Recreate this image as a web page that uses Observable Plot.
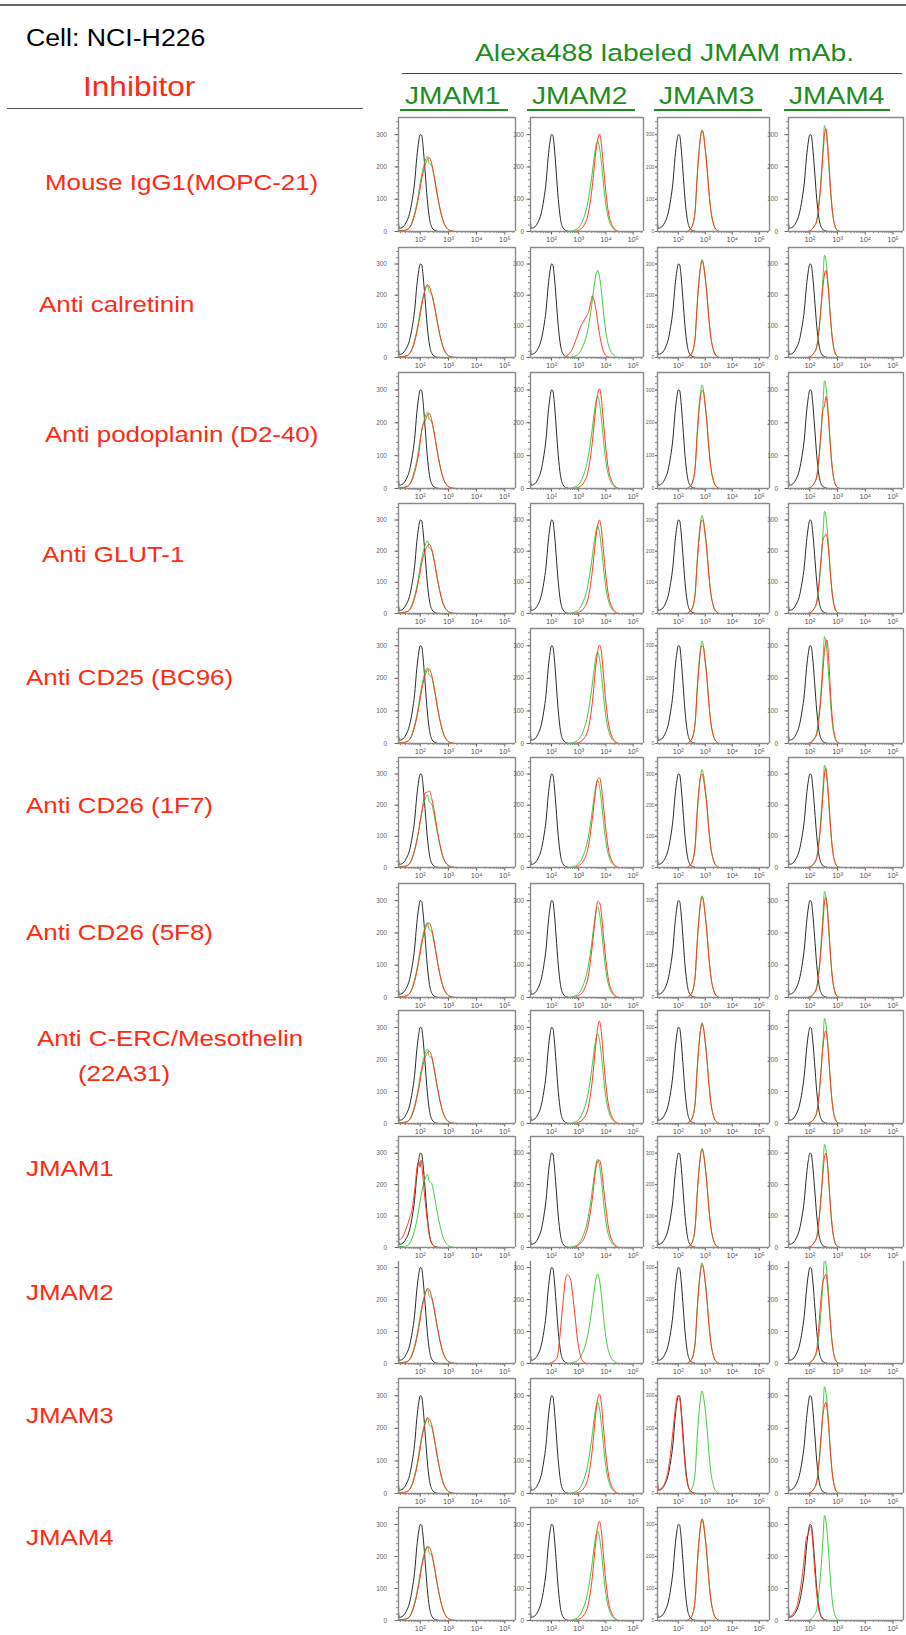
<!DOCTYPE html>
<html><head><meta charset="utf-8">
<script src="https://cdn.jsdelivr.net/npm/d3@7"></script>
<script src="https://cdn.jsdelivr.net/npm/@observablehq/plot@0.6"></script>
<style>
body{margin:0;background:#fff;}
#page{position:relative;width:906px;height:1635px;overflow:hidden;background:#fff;font-family:"Liberation Sans",Arial,sans-serif;}
.t{position:absolute;white-space:nowrap;line-height:1;transform-origin:0 0;}
.ln{position:absolute;}
.panel{position:absolute;}
</style></head><body><div id="page"></div>
<script>
// ---------- categories / labels ----------
const cellLine = "Cell: NCI-H226";
const reagentTitle = "Alexa488 labeled JMAM mAb.";
const inhibitorTitle = "Inhibitor";
const antibodies = ["JMAM1", "JMAM2", "JMAM3", "JMAM4"];
const inhibitors = [
  ["Mouse IgG1(MOPC-21)"], ["Anti calretinin"], ["Anti podoplanin (D2-40)"], ["Anti GLUT-1"],
  ["Anti CD25 (BC96)"], ["Anti CD26 (1F7)"], ["Anti CD26 (5F8)"], ["Anti C-ERC/Mesothelin", "(22A31)"],
  ["JMAM1"], ["JMAM2"], ["JMAM3"], ["JMAM4"]
];
const xTicks = [2, 3, 4, 5];
const xTickLabels = ["10²", "10³", "10⁴", "10⁵"];
const yTicks = [0, 100, 200, 300];

// ---------- series: [log10 fluorescence, count] ----------
const control = [[1.23,28],[1.26,10],[1.35,12],[1.5,28],[1.62,55],[1.72,100],[1.8,150],[1.88,230],[1.95,280],[2.0,300],[2.05,298],[2.1,265],[2.17,190],[2.25,100],[2.33,40],[2.42,12],[2.55,2],[2.7,0],[5.38,0]];
const greenJ1 = [[1.23,8],[1.27,3],[1.45,4],[1.6,10],[1.75,40],[1.9,95],[2.0,150],[2.1,195],[2.2,225],[2.26,233],[2.32,210],[2.4,205],[2.5,165],[2.6,115],[2.7,70],[2.8,35],[2.95,10],[3.1,2],[3.3,0],[5.38,0]];
const greenJ2 = [[1.23,0],[2.6,0],[2.8,3],[3.0,12],[3.15,35],[3.3,75],[3.45,150],[3.57,230],[3.65,272],[3.7,280],[3.76,262],[3.85,200],[3.93,130],[4.03,65],[4.13,30],[4.28,8],[4.45,0],[5.38,0]];
const greenJ3 = [[1.23,0],[2.3,0],[2.45,8],[2.55,25],[2.63,70],[2.7,170],[2.76,240],[2.82,290],[2.88,315],[2.93,300],[2.98,270],[3.05,215],[3.12,140],[3.2,70],[3.3,25],[3.42,5],[3.55,0],[5.38,0]];
const greenJ4 = [[1.23,0],[1.9,0],[2.05,5],[2.15,15],[2.25,35],[2.32,80],[2.4,160],[2.47,250],[2.53,328],[2.57,318],[2.62,280],[2.68,210],[2.75,120],[2.82,55],[2.9,18],[3.0,3],[3.1,0],[5.38,0]];

// red (inhibitor + labeled mAb): counts read at the x positions of each column's grid,
// or [x, count] pairs where the curve moved away from the green one
const redGridJ1 = [1.23,1.3,1.5,1.65,1.8,1.95,2.07,2.17,2.26,2.33,2.4,2.5,2.6,2.7,2.82,2.95,3.1,3.3,5.38];
const redGridJ2 = [1.23,2.8,3.0,3.2,3.35,3.5,3.62,3.7,3.76,3.82,3.9,4.0,4.1,4.2,4.35,4.5,5.38];
const redGridJ3 = [1.23,2.3,2.45,2.55,2.63,2.7,2.76,2.82,2.88,2.93,2.98,3.05,3.12,3.2,3.3,3.42,3.55,5.38];
const redGridJ4 = [1.23,1.9,2.05,2.15,2.25,2.32,2.4,2.47,2.53,2.58,2.62,2.68,2.75,2.82,2.9,3.0,3.1,5.38];
const redJ1 = [
  [6,2,5,15,50,110,170,205,224,228,212,170,118,72,32,10,2,0,0],
  [6,2,5,15,50,112,175,215,234,226,205,168,118,72,32,10,2,0,0],
  [6,2,5,15,48,108,185,205,224,228,210,168,116,70,30,10,2,0,0],
  [6,2,5,14,48,108,168,200,218,222,208,168,116,70,30,10,2,0,0],
  [6,2,5,15,50,112,172,208,226,228,212,170,118,72,32,10,2,0,0],
  [6,2,5,16,55,120,185,238,242,245,225,180,122,74,32,10,2,0,0],
  [6,2,5,15,50,112,172,210,228,230,214,172,118,72,32,10,2,0,0],
  [6,2,5,15,50,110,170,205,222,225,212,170,118,72,32,10,2,0,0],
  [[1.23,120],[1.25,25],[1.35,30],[1.46,50],[1.62,92],[1.72,125],[1.8,180],[1.9,262],[1.95,275],[1.99,255],[2.03,278],[2.08,240],[2.14,180],[2.22,110],[2.32,40],[2.45,8],[2.6,0],[5.38,0]],
  [6,2,5,15,50,112,175,215,235,230,210,170,118,72,32,10,2,0,0],
  [6,2,5,15,50,112,175,212,232,228,212,170,118,72,32,10,2,0,0],
  [6,2,5,15,50,112,175,210,230,228,212,170,118,72,32,10,2,0,0]
];
const redJ2 = [
  [0,0,4,20,55,140,240,285,302,280,210,120,55,25,6,0,0],
  [[1.23,0],[2.45,0],[2.6,8],[2.75,25],[2.92,62],[3.05,95],[3.18,116],[3.3,135],[3.37,148],[3.44,175],[3.5,198],[3.56,185],[3.64,150],[3.72,100],[3.82,50],[3.95,12],[4.08,2],[4.2,0],[5.38,0]],
  [0,0,4,20,55,140,240,290,303,282,212,120,55,25,6,0,0],
  [0,0,4,18,50,135,235,285,300,280,210,120,55,25,6,0,0],
  [0,0,3,16,45,125,230,285,302,290,220,125,58,26,6,0,0],
  [0,0,6,25,65,155,245,285,288,270,205,120,55,25,6,0,0],
  [0,0,6,25,65,160,255,298,295,270,200,115,52,24,6,0,0],
  [0,0,4,18,50,135,240,300,320,295,215,120,55,25,6,0,0],
  [0,0,8,30,72,155,245,275,278,262,200,125,60,27,7,0,0],
  [[1.23,0],[1.9,0],[2.05,5],[2.21,18],[2.28,61],[2.4,169],[2.52,266],[2.58,278],[2.69,266],[2.84,169],[2.96,72],[3.08,20],[3.15,8],[3.3,0],[5.38,0]],
  [0,0,4,18,50,135,240,292,305,285,212,120,55,25,6,0,0],
  [0,0,4,18,50,135,240,295,310,288,212,120,55,25,6,0,0]
];
const redJ3 = [
  [0,0,8,25,70,168,238,290,312,305,268,212,138,70,25,5,0,0],
  [0,0,8,25,70,168,238,288,310,300,268,212,138,70,25,5,0,0],
  [0,0,8,25,68,160,228,278,298,295,262,210,136,68,24,5,0,0],
  [0,0,8,25,68,160,228,280,300,295,262,210,136,68,24,5,0,0],
  [0,0,8,25,68,160,228,280,300,296,262,210,136,68,24,5,0,0],
  [0,0,9,28,78,180,245,290,300,285,255,205,132,66,24,5,0,0],
  [0,0,8,25,70,168,238,290,310,302,266,212,138,70,25,5,0,0],
  [0,0,8,25,70,168,238,290,310,302,266,212,138,70,25,5,0,0],
  [0,0,8,25,70,168,238,290,312,302,268,212,138,70,25,5,0,0],
  [0,0,8,25,70,166,236,288,308,300,266,212,138,70,25,5,0,0],
  [[1.23,40],[1.26,12],[1.4,18],[1.55,45],[1.68,100],[1.8,190],[1.9,265],[1.98,300],[2.04,300],[2.1,255],[2.18,160],[2.27,70],[2.37,20],[2.5,4],[2.65,0],[5.38,0]],
  [0,0,8,25,70,170,242,295,318,308,272,215,140,70,25,5,0,0]
];
const redJ4 = [
  [0,0,5,15,33,75,150,235,300,318,295,225,130,60,20,3,0,0],
  [0,0,5,15,35,80,155,225,268,280,262,205,120,55,18,3,0,0],
  [0,0,5,15,38,90,170,240,252,280,262,205,120,55,18,3,0,0],
  [0,0,5,15,38,90,170,235,248,255,245,200,118,55,18,3,0,0],
  [0,0,4,12,30,70,140,220,285,310,318,260,150,70,24,4,0,0],
  [0,0,4,12,30,72,145,228,300,318,290,222,128,58,19,3,0,0],
  [0,0,4,12,30,72,145,228,295,310,290,222,128,58,19,3,0,0],
  [0,0,5,15,35,80,160,235,278,290,270,210,122,56,18,3,0,0],
  [0,0,5,15,33,78,155,232,288,300,282,215,125,57,18,3,0,0],
  [0,0,6,18,45,110,200,255,270,280,258,200,118,54,18,3,0,0],
  [0,0,5,15,38,90,170,240,270,280,262,205,120,55,18,3,0,0],
  [[1.23,42],[1.26,12],[1.4,22],[1.55,50],[1.68,110],[1.8,195],[1.88,260],[1.94,268],[2.0,290],[2.04,295],[2.1,250],[2.17,165],[2.26,75],[2.36,22],[2.5,3],[2.65,0],[5.38,0]]
];

// ---------- layout (pixels) ----------
const X0 = 1.23, X1 = 5.38;
const rowTop    = [117, 247, 372, 503, 628, 757, 883, 1010, 1136, 1261, 1378, 1507];
const rowBottom = [231, 357, 488, 613, 743, 867, 997, 1123, 1247, 1363, 1493, 1620];
const rowYMax   = [353, 353, 353, 353, 353, 353, 353, 353, 353, 319, 353, 353];
const colLeft   = [398, 530, 657, 788];
const colRight  = [515, 643, 769, 903];
const colMarginLeft = [26, 20, 14, 24];
const colTickPad = [8, 3, 1, 7];
const colTickFont = [6.5, 6.5, 5.2, 6.5];
const colTickSize = [3.5, 3.5, 2, 3.5];
const labelPos = [[45,191],[39,313],[45,443],[42,563],[26,686],[26,814],[26,941],[[37,1047],[78,1082]],[26,1177],[26,1301],[26,1424],[26,1546]];

const RED = "#ff2a12", GREEN = "#1e8c1e";
const page = document.getElementById("page");

function addText(str, x, base, fs, color, sx) {
  const d = document.createElement("div");
  d.className = "t";
  d.textContent = str;
  d.style.left = x + "px";
  d.style.top = (base - 0.8465 * fs) + "px";
  d.style.fontSize = fs + "px";
  d.style.color = color;
  d.style.transform = `scaleX(${sx})`;
  page.appendChild(d);
}
function addLine(x1, x2, y, w, color) {
  const d = document.createElement("div");
  d.className = "ln";
  d.style.left = x1 + "px";
  d.style.width = (x2 - x1) + "px";
  d.style.top = (y - w / 2) + "px";
  d.style.height = w + "px";
  d.style.background = color;
  page.appendChild(d);
}

// header
addLine(0, 906, 5, 1.5, "#666");
addText(cellLine, 26, 46, 23, "#000", 1.16);
addText(reagentTitle, 475, 61.7, 24.5, GREEN, 1.155);
addLine(402, 902, 73.3, 1.5, "#444");
addText(inhibitorTitle, 83, 96.7, 27, RED, 1.17);
addLine(7, 363, 108.3, 1.5, "#555");
const headX = [[404.6, 400, 507.5], [531.8, 527, 634.7], [659, 654.3, 761.8], [789, 784.4, 890]];
antibodies.forEach((a, i) => {
  addText(a, headX[i][0], 105, 24.7, GREEN, 1.14);
  addLine(headX[i][1], headX[i][2], 110, 2.5, GREEN);
});

// row labels
inhibitors.forEach((lines, i) => {
  const pos = lines.length > 1 ? labelPos[i] : [labelPos[i]];
  lines.forEach((s, j) => addText(s, pos[j][0], pos[j][1], 22.5, RED, 1.15));
});

// panels
const greens = [greenJ1, greenJ2, greenJ3, greenJ4];
const reds = [redJ1, redJ2, redJ3, redJ4];
const grids = [redGridJ1, redGridJ2, redGridJ3, redGridJ4];
const xMinor = [];
for (let n = 1; n <= 5; n++) for (let k = 2; k <= 9; k++) {
  const v = n + Math.log10(k);
  if (v >= X0 && v <= X1) xMinor.push(v);
}
const fx = d => d[0], fy = d => d[1];

for (let ri = 0; ri < 12; ri++) {
  for (let ci = 0; ci < 4; ci++) {
    const raw = reds[ci][ri];
    const red = typeof raw[0] === "number" ? grids[ci].map((x, i) => [x, raw[i]]) : raw;
    const ymax = rowYMax[ri];
    const H = rowBottom[ri] - rowTop[ri];
    const W = colRight[ci] - colLeft[ci];
    const ml = colMarginLeft[ci], mr = 3, mt = 2, mb = 17;
    const yMinor = d3.range(0, ymax + 0.1, 20);
    const svg = Plot.plot({
      width: ml + W + mr, height: mt + H + mb,
      marginLeft: ml, marginRight: mr, marginTop: mt, marginBottom: mb,
      x: {domain: [X0, X1], label: null},
      y: {domain: [0, ymax], label: null},
      style: {background: "transparent", overflow: "visible", fontFamily: "Liberation Sans, Arial, sans-serif"},
      marks: [
        Plot.axisY(yMinor, {tickSize: 2, tickFormat: () => "", color: "#888", label: null}),
        Plot.axisY(yTicks, {tickSize: colTickSize[ci], tickPadding: colTickPad[ci], fontSize: colTickFont[ci], color: "#666", label: null}),
        Plot.axisX(xMinor, {tickSize: 2, tickFormat: () => "", color: "#888", label: null}),
        Plot.axisX(xTicks, {tickSize: 3.5, tickPadding: 2, fontSize: 7.5, color: "#555", label: null,
          tickFormat: d => xTickLabels[xTicks.indexOf(d)]}),
        Plot.line(control, {x: fx, y: fy, stroke: "#2a2a2a", strokeWidth: 1, curve: "monotone-x", clip: true}),
        Plot.line(greens[ci], {x: fx, y: fy, stroke: "#3fcc3f", strokeWidth: 1, curve: "monotone-x", clip: true}),
        Plot.line(red, {x: fx, y: fy, stroke: "#ff3a22", strokeWidth: 1, curve: "monotone-x", clip: true}),
        Plot.ruleX([X0, X1], {stroke: "#8a8a8a", strokeWidth: 1.4}),
        Plot.ruleY(ri === 9 ? [0] : [0, ymax], {stroke: "#8a8a8a", strokeWidth: 1.4})
      ]
    });
    svg.classList.add("panel");
    svg.style.position = "absolute";
    svg.style.left = (colLeft[ci] - ml) + "px";
    svg.style.top = (rowTop[ri] - mt) + "px";
    page.appendChild(svg);
  }
}
</script></body></html>
